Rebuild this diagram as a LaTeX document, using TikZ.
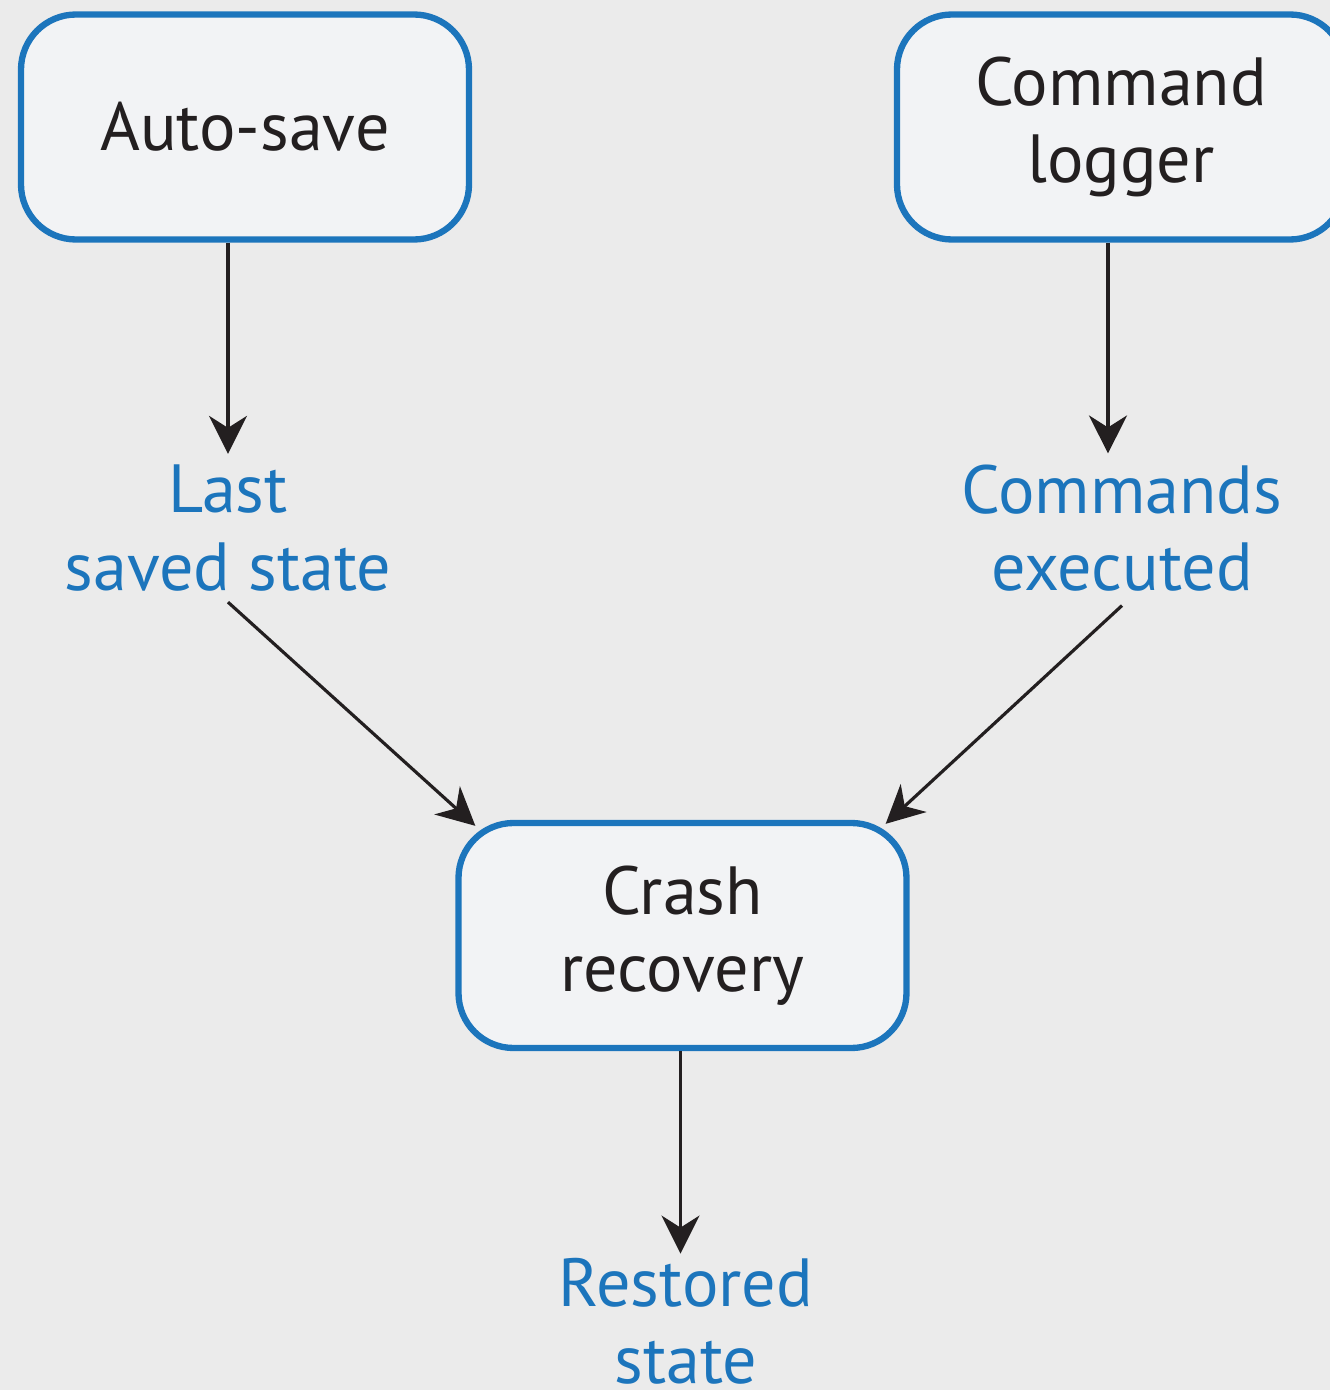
\documentclass[tikz,border=0pt]{standalone}
\usepackage{fontspec}
\setmainfont{PT Sans}
\usetikzlibrary{arrows.meta}
\definecolor{bgray}{HTML}{EBEBEB}
\definecolor{boxfill}{HTML}{F2F3F5}
\definecolor{boxblue}{HTML}{1C75BC}
\definecolor{inkblack}{HTML}{231F20}

\begin{document}
\begin{tikzpicture}[
    every node/.style={font=\fontsize{19.4}{22}\selectfont, align=center},
    procbox/.style={draw=boxblue, line width=1.8pt, fill=boxfill, rounded corners=5.5mm,
        minimum width=4.48cm, minimum height=2.25cm, text=inkblack, inner sep=0pt},
    datalabel/.style={text=boxblue, inner sep=1pt},
    flow/.style={draw=inkblack, line width=0.9pt, -{Stealth[length=3.8mm, width=3.8mm, inset=1.2mm]}}
]
                \useasboundingbox (0,0) rectangle (13.3,13.9);
                \fill[bgray] (0,0) rectangle (13.3,13.9);
                \node[procbox] (autosave) at (2.45,12.63) {Auto-save};
                \node[procbox] (logger) at (11.21,12.63) {\raisebox{-1mm}{Command}\\\raisebox{-1mm}{logger}};
                \node[procbox] (crash) at (6.825,4.545) {Crash\\recovery};
                \node[datalabel] (laststate) at (2.28,8.62) {Last\\saved state};
                \node[datalabel] (executed) at (11.22,8.62) {Commands\\executed};
                \node[datalabel] (restored) at (6.86,0.69) {Restored\\state};
                \draw[flow, shorten >=0.7mm] (autosave.south -| laststate.north) -- (laststate.north);
                \draw[flow, shorten >=0.7mm] ([xshift=-1.4mm]logger.south -| executed.north) -- ([xshift=-1.4mm]executed.north);
                \draw[flow] ([yshift=-0.7mm]laststate.south) -- ([xshift=2mm,yshift=-0.6mm]crash.north west);
                \draw[flow] ([yshift=-1mm]executed.south) -- ([xshift=-2.4mm,yshift=-0.4mm]crash.north east);
                \draw[flow] ([xshift=-0.2mm]crash.south) -- ([xshift=-0.2mm]crash.south |- restored.north);
\end{tikzpicture}
\end{document}
